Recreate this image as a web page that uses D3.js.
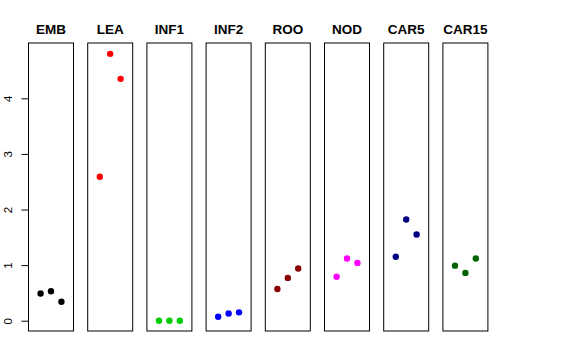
<!DOCTYPE html>
<html><head><meta charset="utf-8">
<script src="https://cdn.jsdelivr.net/npm/d3@7"></script>
<style>body{margin:0;background:#fff}svg{display:block}</style>
</head><body>
<svg id="c" width="576" height="360"></svg>
<script>
const categories = ["EMB","LEA","INF1","INF2","ROO","NOD","CAR5","CAR15"];
const colors = ["#000000","#FF0000","#00CD00","#0000FF","#8B0000","#FF00FF","#000080","#006400"];
const EMB = [0.49, 0.53, 0.34];
const LEA = [2.59, 4.80, 4.35];
const INF1 = [0.00, 0.00, 0.00];
const INF2 = [0.07, 0.13, 0.15];
const ROO = [0.57, 0.77, 0.94];
const NOD = [0.79, 1.12, 1.04];
const CAR5 = [1.15, 1.82, 1.55];
const CAR15 = [0.99, 0.86, 1.12];
const seriesValues = [EMB, LEA, INF1, INF2, ROO, NOD, CAR5, CAR15];
const yTicks = [0, 1, 2, 3, 4];

const svg = d3.select("#c");
const panelLeft = 28.5, panelStep = 59.2, panelW = 45;
const y = d3.scaleLinear().domain([-0.185, 4.995]).range([331, 43]);
const x = d3.scaleLinear().domain([-0.16, 4.16]).range([0, panelW]);

categories.forEach((cat, i) => {
  const g = svg.append("g").attr("transform", `translate(${panelLeft + i*panelStep},0)`);
  g.append("rect").attr("x", 0).attr("y", 43).attr("width", panelW).attr("height", 288)
    .attr("fill", "none").attr("stroke", "#000").attr("stroke-width", 1);
  g.append("text").attr("x", panelW/2).attr("y", 34).attr("text-anchor", "middle")
    .attr("font-family", "Liberation Sans, Arial, sans-serif").attr("font-weight", "bold")
    .attr("font-size", 13.5).text(cat);
  g.selectAll("circle").data(seriesValues[i]).join("circle")
    .attr("cx", (d, j) => x(j + 1)).attr("cy", d => y(d)).attr("r", 3.2)
    .attr("fill", colors[i]);
});

const axis = d3.axisLeft(y).tickValues(yTicks).tickSize(7).tickPadding(4).tickFormat(d3.format("d"));
const ag = svg.append("g").attr("transform", "translate(28.5,0)").call(axis);
ag.select(".domain").attr("d", `M0,${y(0)}V${y(4)}`).attr("stroke", "#000");
ag.selectAll(".tick line").attr("stroke", "#000");
ag.selectAll(".tick text")
  .attr("font-family", "Liberation Sans, Arial, sans-serif").attr("font-size", 11.5).attr("fill", "#000")
  .attr("x", null).attr("dy", null).attr("text-anchor", "middle")
  .attr("transform", "translate(-20.5,0) rotate(-90)")
  .attr("dominant-baseline", "central");
</script>
</body></html>
